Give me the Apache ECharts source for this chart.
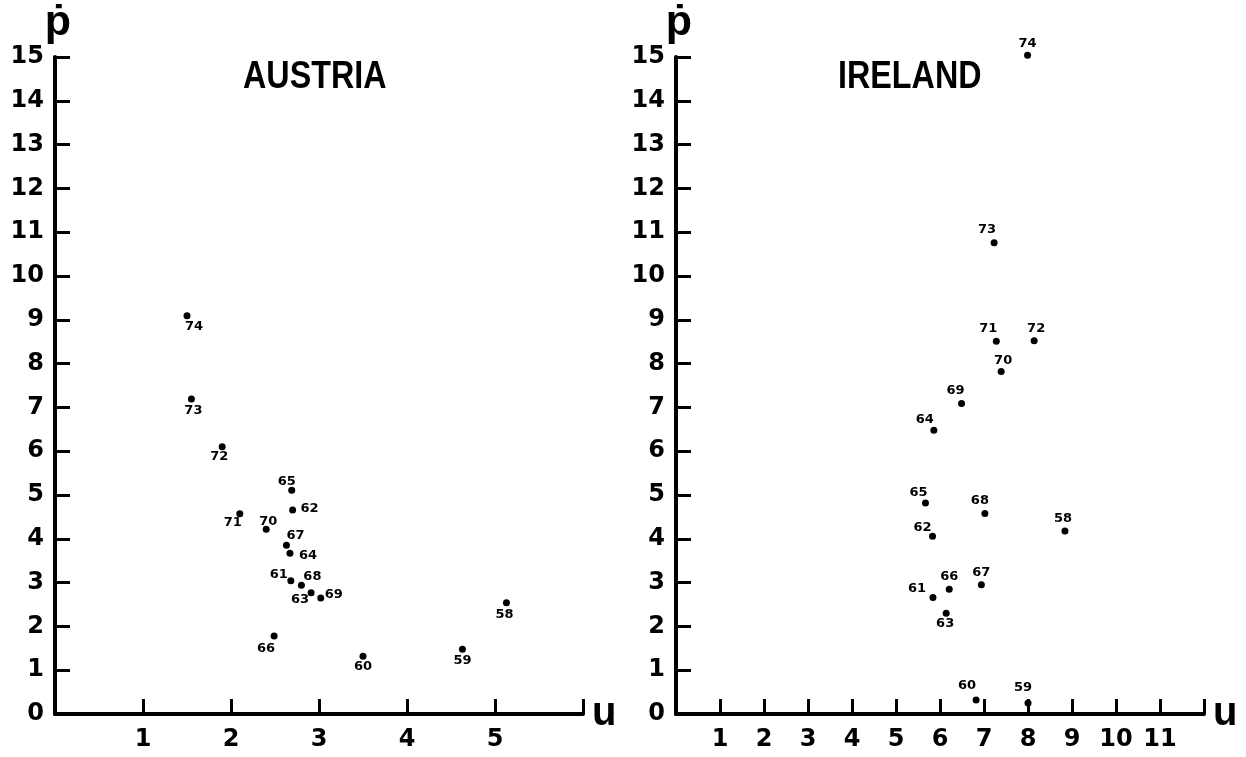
<!DOCTYPE html>
<html>
<head>
<meta charset="utf-8">
<title>Inflation and unemployment: Austria and Ireland</title>
<script src="https://cdn.jsdelivr.net/npm/echarts@6/dist/echarts.min.js"></script>
<style>
  html, body { margin: 0; padding: 0; background: #fff; }
  #chart { width: 1246px; height: 757px; }
</style>
</head>
<body>
<div id="chart"></div>
<script>
// Year labels and (unemployment u, inflation p-dot) pairs, 1958-1974
const austriaYears = ['74', '73', '72', '65', '62', '71', '70', '67', '64', '61', '68', '63', '69', '66', '60', '59', '58'];
const austriaU     = [1.50, 1.55, 1.90, 2.69, 2.70, 2.10, 2.40, 2.63, 2.67, 2.68, 2.80, 2.91, 3.02, 2.49, 3.50, 4.63, 5.13];
const austriaP     = [9.09, 7.19, 6.10, 5.11, 4.66, 4.57, 4.22, 3.85, 3.67, 3.04, 2.94, 2.77, 2.65, 1.78, 1.32, 1.48, 2.54];

const irelandYears = ['74', '73', '71', '72', '70', '69', '64', '65', '68', '62', '58', '66', '67', '61', '63', '60', '59'];
const irelandU     = [7.99, 7.23, 7.28, 8.14, 7.39, 6.49, 5.86, 5.67, 7.02, 5.83, 8.84, 6.21, 6.94, 5.84, 6.14, 6.82, 8.00];
const irelandP     = [15.04, 10.76, 8.51, 8.52, 7.82, 7.09, 6.48, 4.82, 4.58, 4.06, 4.18, 2.85, 2.95, 2.66, 2.30, 0.32, 0.25];

// Axis ranges
const pTicks = [0, 15];
const austriaUMax = 6;
const irelandUMax = 12;

// Where each year label sits relative to its dot (pixels)
const austriaLabelShift = [[7, 11], [2, 12], [-3, 10], [-5, -9], [17, -1], [-7, 9], [2, -8], [9, -10], [18, 2],
  [-12, -6], [11, -9], [-11, 7], [13, -3], [-8, 13], [0, 10], [0, 11], [-2, 12]];
const irelandLabelShift = [[0, -12], [-7, -13], [-8, -13], [2, -12], [2, -11], [-6, -13], [-9, -11], [-7, -10],
  [-5, -13], [-10, -9], [-2, -12], [0, -13], [0, -12], [-16, -9], [-1, 10], [-9, -14], [-5, -15]];

const INK = '#000';
const tickFont = 'DejaVu Sans, Liberation Sans, Arial, sans-serif';
const titleFont = '"Liberation Sans", Arial, sans-serif';

function points(us, ps, years, shifts) {
  return us.map((u, i) => ({
    value: [u, ps[i]],
    label: { offset: shifts[i], formatter: years[i] }
  }));
}

function xAxis(gridIndex, max) {
  return {
    type: 'value', gridIndex, min: 0, max, interval: 1,
    name: 'u', nameLocation: 'end', nameGap: 9,
    nameTextStyle: { color: INK, fontFamily: 'Liberation Sans, Arial, sans-serif', fontWeight: 'bold', fontSize: 40, align: 'left', verticalAlign: 'middle', padding: [0, 0, 8, 0] },
    axisLine: { show: true, onZero: false, lineStyle: { color: INK, width: 4 } },
    axisTick: { show: true, inside: true, length: 15, lineStyle: { color: INK, width: 3 } },
    axisLabel: {
      color: INK, fontFamily: tickFont, fontWeight: 'bold', fontSize: 24, margin: 14,
      formatter: v => (v === 0 || v === max) ? '' : String(v)
    },
    splitLine: { show: false }
  };
}

function yAxis(gridIndex) {
  return {
    type: 'value', gridIndex, min: pTicks[0], max: pTicks[1], interval: 1,
    name: 'ṗ', nameLocation: 'end', nameGap: 20,
    nameTextStyle: { color: INK, fontFamily: 'Liberation Sans, Arial, sans-serif', fontWeight: 'bold', fontSize: 43, align: 'center', verticalAlign: 'middle', padding: [0, 0, 0, 6] },
    axisLine: { show: true, onZero: false, lineStyle: { color: INK, width: 4 } },
    axisTick: { show: true, inside: true, length: 15, lineStyle: { color: INK, width: 3 } },
    axisLabel: { color: INK, fontFamily: tickFont, fontWeight: 'bold', fontSize: 24, margin: 11 },
    splitLine: { show: false }
  };
}

function scatter(idx, data) {
  return {
    type: 'scatter', xAxisIndex: idx, yAxisIndex: idx,
    clip: false,
    symbol: 'circle', symbolSize: 7,
    itemStyle: { color: INK, opacity: 1 },
    label: {
      show: true, position: 'inside', align: 'center', verticalAlign: 'middle',
      color: INK, fontFamily: tickFont, fontWeight: 'bold', fontSize: 13
    },
    data
  };
}

const chart = echarts.init(document.getElementById('chart'), null, { renderer: 'canvas' });
chart.setOption({
  animation: false,
  backgroundColor: '#fff',
  grid: [
    { left: 55, top: 57, width: 528, height: 657 },
    { left: 676, top: 57, width: 528, height: 657 }
  ],
  xAxis: [xAxis(0, austriaUMax), xAxis(1, irelandUMax)],
  yAxis: [yAxis(0), yAxis(1)],
  graphic: [
    { type: 'text', x: 243, y: 59, scaleX: 0.85, style: { text: 'AUSTRIA', fill: INK, font: 'bold 38px ' + titleFont } },
    { type: 'text', x: 838, y: 59, scaleX: 0.85, style: { text: 'IRELAND', fill: INK, font: 'bold 38px ' + titleFont } }
  ],
  series: [
    scatter(0, points(austriaU, austriaP, austriaYears, austriaLabelShift)),
    scatter(1, points(irelandU, irelandP, irelandYears, irelandLabelShift))
  ]
});
</script>
</body>
</html>
